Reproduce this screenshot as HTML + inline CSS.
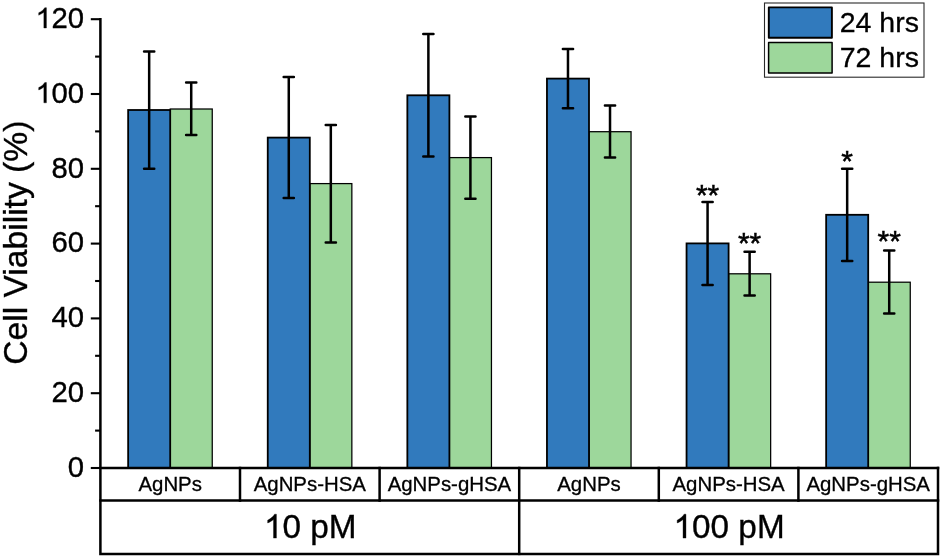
<!DOCTYPE html>
<html><head><meta charset="utf-8"><title>Cell Viability</title>
<style>html,body{margin:0;padding:0;background:#fff;}body{width:942px;height:558px;overflow:hidden;font-family:"Liberation Sans",sans-serif;}svg{display:block;will-change:transform;filter:blur(0.3px);}</style>
</head><body>
<svg width="942" height="558" viewBox="0 0 942 558" font-family="'Liberation Sans', sans-serif" fill="#000">
<rect width="942" height="558" fill="#fff"/>
<rect x="170.20" y="109.00" width="42.05" height="359.00" fill="#9dd79b" stroke="#000" stroke-width="1.25"/>
<rect x="128.15" y="110.00" width="42.05" height="358.00" fill="#317abd" stroke="#000" stroke-width="1.8"/>
<path d="M149.17 51.40V168.70M144.07 51.40h10.2M144.07 168.70h10.2" stroke="#000" stroke-width="2.5" stroke-linecap="round" fill="none"/>
<path d="M191.22 82.60V135.00M186.12 82.60h10.2M186.12 135.00h10.2" stroke="#000" stroke-width="2.5" stroke-linecap="round" fill="none"/>
<rect x="309.80" y="183.60" width="42.05" height="284.40" fill="#9dd79b" stroke="#000" stroke-width="1.25"/>
<rect x="267.75" y="137.60" width="42.05" height="330.40" fill="#317abd" stroke="#000" stroke-width="1.8"/>
<path d="M288.77 77.00V198.00M283.67 77.00h10.2M283.67 198.00h10.2" stroke="#000" stroke-width="2.5" stroke-linecap="round" fill="none"/>
<path d="M330.82 125.00V242.40M325.72 125.00h10.2M325.72 242.40h10.2" stroke="#000" stroke-width="2.5" stroke-linecap="round" fill="none"/>
<rect x="449.40" y="157.60" width="42.05" height="310.40" fill="#9dd79b" stroke="#000" stroke-width="1.25"/>
<rect x="407.35" y="95.30" width="42.05" height="372.70" fill="#317abd" stroke="#000" stroke-width="1.8"/>
<path d="M428.38 34.00V156.40M423.27 34.00h10.2M423.27 156.40h10.2" stroke="#000" stroke-width="2.5" stroke-linecap="round" fill="none"/>
<path d="M470.42 116.50V198.80M465.32 116.50h10.2M465.32 198.80h10.2" stroke="#000" stroke-width="2.5" stroke-linecap="round" fill="none"/>
<rect x="589.00" y="131.70" width="42.05" height="336.30" fill="#9dd79b" stroke="#000" stroke-width="1.25"/>
<rect x="546.95" y="78.60" width="42.05" height="389.40" fill="#317abd" stroke="#000" stroke-width="1.8"/>
<path d="M567.98 49.00V108.20M562.88 49.00h10.2M562.88 108.20h10.2" stroke="#000" stroke-width="2.5" stroke-linecap="round" fill="none"/>
<path d="M610.02 105.40V157.50M604.92 105.40h10.2M604.92 157.50h10.2" stroke="#000" stroke-width="2.5" stroke-linecap="round" fill="none"/>
<rect x="728.60" y="273.80" width="42.05" height="194.20" fill="#9dd79b" stroke="#000" stroke-width="1.25"/>
<rect x="686.55" y="243.40" width="42.05" height="224.60" fill="#317abd" stroke="#000" stroke-width="1.8"/>
<path d="M707.57 202.00V285.00M702.47 202.00h10.2M702.47 285.00h10.2" stroke="#000" stroke-width="2.5" stroke-linecap="round" fill="none"/>
<path d="M749.62 251.80V295.40M744.52 251.80h10.2M744.52 295.40h10.2" stroke="#000" stroke-width="2.5" stroke-linecap="round" fill="none"/>
<rect x="868.20" y="282.20" width="42.05" height="185.80" fill="#9dd79b" stroke="#000" stroke-width="1.25"/>
<rect x="826.15" y="214.80" width="42.05" height="253.20" fill="#317abd" stroke="#000" stroke-width="1.8"/>
<path d="M847.17 168.80V261.10M842.07 168.80h10.2M842.07 261.10h10.2" stroke="#000" stroke-width="2.5" stroke-linecap="round" fill="none"/>
<path d="M889.22 250.40V313.40M884.12 250.40h10.2M884.12 313.40h10.2" stroke="#000" stroke-width="2.5" stroke-linecap="round" fill="none"/>
<g stroke="#000" stroke-width="2.5" fill="none" stroke-linecap="square">
<path d="M100.4 19.2V553.9H938.0V468.0"/>
<path d="M100.4 468.0H938.0"/>
<path d="M100.4 500.6H938.0"/>
<path d="M240.00 468.0V500.6"/>
<path d="M379.60 468.0V500.6"/>
<path d="M519.20 468.0V553.9"/>
<path d="M658.80 468.0V500.6"/>
<path d="M798.40 468.0V500.6"/>
</g>
<g stroke="#000" stroke-width="2.1" fill="none">
<path d="M90.8 468.00H100.4"/>
<path d="M95.1 430.60H100.4"/>
<path d="M90.8 393.20H100.4"/>
<path d="M95.1 355.80H100.4"/>
<path d="M90.8 318.40H100.4"/>
<path d="M95.1 281.00H100.4"/>
<path d="M90.8 243.60H100.4"/>
<path d="M95.1 206.20H100.4"/>
<path d="M90.8 168.80H100.4"/>
<path d="M95.1 131.40H100.4"/>
<path d="M90.8 94.00H100.4"/>
<path d="M95.1 56.60H100.4"/>
<path d="M90.8 19.20H100.4"/>
</g>
<text transform="translate(84 476.80) scale(1 1.0)" font-size="29.3" text-anchor="end" stroke="#000" stroke-width="0.35">0</text>
<text transform="translate(84 402.00) scale(1 1.0)" font-size="29.3" text-anchor="end" stroke="#000" stroke-width="0.35">20</text>
<text transform="translate(84 327.20) scale(1 1.0)" font-size="29.3" text-anchor="end" stroke="#000" stroke-width="0.35">40</text>
<text transform="translate(84 252.40) scale(1 1.0)" font-size="29.3" text-anchor="end" stroke="#000" stroke-width="0.35">60</text>
<text transform="translate(84 177.60) scale(1 1.0)" font-size="29.3" text-anchor="end" stroke="#000" stroke-width="0.35">80</text>
<text transform="translate(84 102.80) scale(1 1.0)" font-size="29.3" text-anchor="end" stroke="#000" stroke-width="0.35">00</text>
<path transform="translate(35.51 102.80) scale(0.01431 -0.01381)" d="M763 0H583V1147Q518 1085 412.5 1023Q307 961 223 930V1104Q374 1175 487 1276Q600 1377 647 1472H763Z" stroke="#000" stroke-width="24.5"/>
<text transform="translate(84 28.00) scale(1 1.0)" font-size="29.3" text-anchor="end" stroke="#000" stroke-width="0.35">20</text>
<path transform="translate(35.51 28.00) scale(0.01431 -0.01381)" d="M763 0H583V1147Q518 1085 412.5 1023Q307 961 223 930V1104Q374 1175 487 1276Q600 1377 647 1472H763Z" stroke="#000" stroke-width="24.5"/>
<text transform="translate(27.4 242.7) rotate(-90)" font-size="33.65" text-anchor="middle" stroke="#000" stroke-width="0.35">Cell Viability (%)</text>
<g font-size="20.4" text-anchor="middle" stroke="#000" stroke-width="0.3">
<text x="170.20" y="491.1">AgNPs</text>
<text x="309.80" y="491.1">AgNPs-HSA</text>
<text x="449.40" y="491.1">AgNPs-gHSA</text>
<text x="589.00" y="491.1">AgNPs</text>
<text x="728.60" y="491.1">AgNPs-HSA</text>
<text x="868.20" y="491.1">AgNPs-gHSA</text>
</g>
<path transform="translate(264.02 538.10) scale(0.01626 -0.01626)" d="M763 0H583V1147Q518 1085 412.5 1023Q307 961 223 930V1104Q374 1175 487 1276Q600 1377 647 1472H763Z" stroke="#000" stroke-width="21.5"/>
<text x="282.54" y="538.1" font-size="33.3" stroke="#000" stroke-width="0.35">0 pM</text>
<path transform="translate(673.56 538.10) scale(0.01626 -0.01626)" d="M763 0H583V1147Q518 1085 412.5 1023Q307 961 223 930V1104Q374 1175 487 1276Q600 1377 647 1472H763Z" stroke="#000" stroke-width="21.5"/>
<text x="692.08" y="538.1" font-size="33.3" stroke="#000" stroke-width="0.35">00 pM</text>
<g font-size="30" text-anchor="middle" stroke="#000" stroke-width="0.5">
<text x="707.57" y="204.9">**</text>
<text x="749.62" y="252.9">**</text>
<text x="847.17" y="170.8">*</text>
<text x="889.22" y="251.3">**</text>
</g>
<rect x="764.5" y="3" width="159.5" height="74.2" fill="#fff" stroke="#2a2a2a" stroke-width="1.1"/>
<rect x="768.8" y="7.4" width="63.1" height="30.4" fill="#317abd" stroke="#000" stroke-width="1.9" stroke-linejoin="round"/>
<rect x="768.6" y="42.5" width="63.5" height="30.6" fill="#9dd79b" stroke="#000" stroke-width="1.5" stroke-linejoin="round"/>
<g font-size="28.5" stroke="#000" stroke-width="0.3">
<text x="839.7" y="32.1">24 hrs</text>
<text x="839.7" y="67">72 hrs</text>
</g>
</svg>
</body></html>
